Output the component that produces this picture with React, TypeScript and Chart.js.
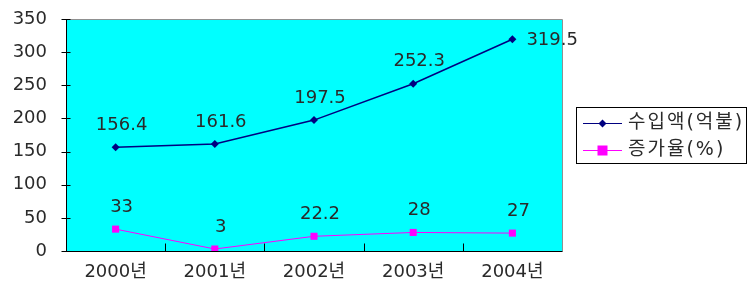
import { useEffect, useRef } from "react";
import { Chart, registerables } from "chart.js";

Chart.register(...registerables);

const categories = ["2000년", "2001년", "2002년", "2003년", "2004년"];
const importAmount = [156.4, 161.6, 197.5, 252.3, 319.5];
const growthRate = [33, 3, 22.2, 28, 27];
const seriesNames = ["수입액(억불)", "증가율(%)"];
const yMin = 0;
const yMax = 350;
const yStep = 50;

const FONT = "'DejaVu Sans', 'Noto Sans CJK KR', sans-serif";
const TEXT = "#2a2a2a";

const decorPlugin = {
  id: "decor",
  beforeDatasetsDraw(chart: any) {
    const { ctx, chartArea: a, scales } = chart;
    const x = scales.x;
    const y = scales.y;
    ctx.save();
    ctx.fillStyle = "#00ffff";
    ctx.fillRect(a.left, a.top, a.right - a.left, a.bottom - a.top);
    const L = Math.round(a.left) + 0.5;
    const R = Math.round(a.right) + 0.5;
    const T = Math.round(a.top) + 0.5;
    const B = Math.round(a.bottom) + 0.5;
    ctx.lineWidth = 1;
    ctx.strokeStyle = "#909090";
    ctx.beginPath();
    ctx.moveTo(L, T);
    ctx.lineTo(R, T);
    ctx.lineTo(R, B);
    ctx.stroke();
    ctx.strokeStyle = "#000000";
    ctx.beginPath();
    ctx.moveTo(L, T);
    ctx.lineTo(L, B);
    ctx.lineTo(R, B);
    ctx.stroke();
    for (let v = yMin; v <= yMax; v += yStep) {
      const py = Math.round(y.getPixelForValue(v)) + 0.5;
      ctx.beginPath();
      ctx.moveTo(L - 5, py);
      ctx.lineTo(L + 4, py);
      ctx.stroke();
    }
    for (let i = 0; i < categories.length - 1; i++) {
      const px = Math.round((x.getPixelForValue(i) + x.getPixelForValue(i + 1)) / 2) + 0.5;
      ctx.beginPath();
      ctx.moveTo(px, B);
      ctx.lineTo(px, B - 8);
      ctx.stroke();
    }
    ctx.restore();
  },
  afterDatasetsDraw(chart: any) {
    const { ctx } = chart;
    ctx.save();
    ctx.font = `18px ${FONT}`;
    ctx.fillStyle = TEXT;
    chart.data.datasets.forEach((ds: any, di: number) => {
      const meta = chart.getDatasetMeta(di);
      meta.data.forEach((pt: any, i: number) => {
        const label = String(ds.data[i]);
        ctx.textBaseline = "middle";
        if (di === 0 && i === ds.data.length - 1) {
          ctx.textAlign = "left";
          ctx.fillText(label, pt.x + 14, pt.y + 1);
        } else {
          ctx.textAlign = "center";
          ctx.fillText(label, pt.x + 6, pt.y - 22);
        }
      });
    });
    ctx.restore();
  },
  afterDraw(chart: any) {
    const { ctx } = chart;
    ctx.save();
    const bx = 576.5, by = 107.5, bw = 170, bh = 56;
    ctx.fillStyle = "#ffffff";
    ctx.fillRect(bx, by, bw, bh);
    ctx.strokeStyle = "#000000";
    ctx.lineWidth = 1;
    ctx.strokeRect(bx, by, bw, bh);
    const rows = [123, 150];
    chart.data.datasets.forEach((ds: any, di: number) => {
      const ry = rows[di] + 0.5;
      ctx.strokeStyle = ds.borderColor;
      ctx.lineWidth = 1;
      ctx.beginPath();
      ctx.moveTo(583, ry);
      ctx.lineTo(622, ry);
      ctx.stroke();
      ctx.fillStyle = ds.pointBackgroundColor;
      const cx = 602.5;
      if (ds.pointStyle === "rectRot") {
        const r = 4;
        ctx.beginPath();
        ctx.moveTo(cx, ry - r);
        ctx.lineTo(cx + r, ry);
        ctx.lineTo(cx, ry + r);
        ctx.lineTo(cx - r, ry);
        ctx.closePath();
        ctx.fill();
      } else {
        ctx.fillRect(cx - 5, ry - 5, 10, 10);
      }
      ctx.fillStyle = TEXT;
      ctx.font = `19px ${FONT}`;
      (ctx as any).letterSpacing = "2px";
      ctx.textAlign = "left";
      ctx.textBaseline = "middle";
      ctx.fillText(ds.label, 628, ry);
      (ctx as any).letterSpacing = "0px";
    });
    ctx.restore();
  },
};

export default function App() {
  const ref = useRef<HTMLCanvasElement>(null);
  useEffect(() => {
    document.body.style.margin = "0";
    const canvas = ref.current!;
    const chart = new Chart(canvas, {
      type: "line",
      data: {
        labels: categories,
        datasets: [
          {
            label: seriesNames[0],
            data: importAmount,
            borderColor: "#000080",
            backgroundColor: "#000080",
            pointBackgroundColor: "#000080",
            pointBorderColor: "#000080",
            borderWidth: 1.5,
            pointStyle: "rectRot",
            pointRadius: 4,
            pointBorderWidth: 0,
            tension: 0,
          },
          {
            label: seriesNames[1],
            data: growthRate,
            borderColor: "#ff00ff",
            backgroundColor: "#ff00ff",
            pointBackgroundColor: "#ff00ff",
            pointBorderColor: "#ff00ff",
            borderWidth: 1,
            pointStyle: "rect",
            pointRadius: 5,
            pointBorderWidth: 0,
            tension: 0,
          },
        ],
      },
      options: {
        responsive: false,
        animation: false,
        events: [],
        layout: { autoPadding: false, padding: { left: 0, top: 19, right: 186, bottom: 0 } },
        plugins: {
          legend: { display: false },
          title: { display: false },
          tooltip: { enabled: false },
        },
        scales: {
          x: {
            type: "category",
            offset: true,
            grid: { display: false, drawTicks: false },
            border: { display: false },
            ticks: {
              font: { family: FONT, size: 18 },
              color: TEXT,
              padding: 11,
              maxRotation: 0,
              autoSkip: false,
            },
            afterFit(scale: any) {
              scale.height = 43;
              scale.paddingLeft = 0;
              scale.paddingRight = 0;
            },
          },
          y: {
            min: yMin,
            max: yMax,
            grid: { display: false, drawTicks: false },
            border: { display: false },
            ticks: {
              stepSize: yStep,
              font: { family: FONT, size: 18 },
              color: TEXT,
              padding: 19,
            },
            afterFit(scale: any) {
              scale.width = 66;
              scale.paddingTop = 0;
              scale.paddingBottom = 0;
            },
          },
        },
      },
      plugins: [decorPlugin],
    });
    return () => chart.destroy();
  }, []);
  return (
    <div style={{ position: "relative", width: 748, height: 294 }}>
      <canvas ref={ref} width={748} height={294} style={{ display: "block" }} />
    </div>
  );
}
